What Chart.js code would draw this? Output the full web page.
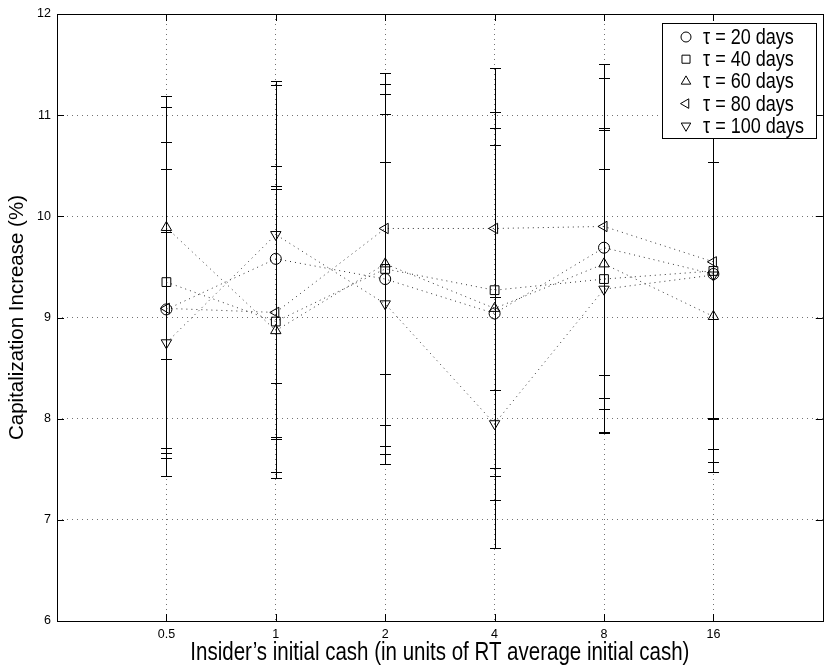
<!DOCTYPE html>
<html>
<head>
<meta charset="utf-8">
<script src="https://cdn.jsdelivr.net/npm/chart.js@4.4.0/dist/chart.umd.min.js"></script>
<style>
  html, body { margin: 0; padding: 0; background: #fff; }
  #wrap { width: 830px; height: 671px; }
</style>
</head>
<body>
<div id="wrap"><canvas id="capChart" width="830" height="671"></canvas></div>
<script>
// x categories (insider's initial cash, units of RT average)
const cashLabels = ['0.5', '1', '2', '4', '8', '16'];
const seriesNames = ['τ = 20 days', 'τ = 40 days', 'τ = 60 days', 'τ = 80 days', 'τ = 100 days'];
const xTitle = 'Insider’s initial cash (in units of RT average initial cash)';
const yTitle = 'Capitalization Increase (%)';

// mean capitalization increase (%) per tau
const mean20  = [9.08, 9.58, 9.38, 9.04, 9.69, 9.43];
const mean40  = [9.35, 8.96, 9.48, 9.27, 9.38, 9.46];
const mean60  = [9.89, 8.87, 9.53, 9.09, 9.53, 9.01];
const mean80  = [9.09, 9.05, 9.88, 9.88, 9.90, 9.55];
const mean100 = [8.75, 9.82, 9.135, 7.95, 9.28, 9.42];

// error bar ends
const low20  = [7.43, 7.82, 7.55, 7.20, 7.87, 7.70];
const high20 = [10.73, 11.30, 11.21, 10.87, 11.51, 11.16];
const low40  = [7.61, 7.41, 7.94, 7.51, 7.86, 7.57];
const high40 = [11.08, 10.50, 11.01, 11.03, 10.85, 11.35];
const low60  = [8.59, 7.47, 7.65, 7.43, 8.20, 7.47];
const high60 = [11.19, 10.27, 11.42, 10.71, 10.87, 10.54];
const low80  = [7.71, 7.80, 8.44, 8.28, 8.43, 8.01];
const high80 = [10.47, 10.30, 11.31, 11.47, 11.37, 11.09];
const low100  = [7.66, 8.35, 7.73, 6.72, 8.10, 8.00];
const high100 = [9.85, 11.34, 10.54, 9.20, 10.47, 10.84];

const yTicks = [6, 7, 8, 9, 10, 11, 12];

const FONT = "'Liberation Sans', Arial, Helvetica, sans-serif";
const SQUEEZE = 0.82; // reference text is horizontally condensed

const means = [mean20, mean40, mean60, mean80, mean100];
const lows = [low20, low40, low60, low80, low100];
const highs = [high20, high40, high60, high80, high100];
const markers = [
    { style: 'circle', rot: 0, r: 5.5 },
    { style: 'rect', rot: 0, r: 6.2 },
    { style: 'triangle', rot: 0, r: 6 },
    { style: 'triangle', rot: -90, r: 6 },
    { style: 'triangle', rot: 180, r: 6 }
];

function toPoints(arr) {
    return arr.map((v, i) => ({ x: i + 1, y: v }));
}

function condensedText(ctx, text, x, y) {
    ctx.save();
    ctx.translate(x, y);
    ctx.scale(SQUEEZE, 1);
    ctx.fillText(text, 0, 0);
    ctx.restore();
}

const errorBars = {
    id: 'errorBars',
    beforeDatasetsDraw(chart) {
        const ctx = chart.ctx;
        const xs = chart.scales.x, ys = chart.scales.y;
        ctx.save();
        ctx.strokeStyle = '#000';
        ctx.lineWidth = 1;
        for (let s = 0; s < means.length; s++) {
            for (let i = 0; i < cashLabels.length; i++) {
                const px = Math.round(xs.getPixelForValue(i + 1)) + 0.5;
                const pLo = Math.round(ys.getPixelForValue(lows[s][i])) + 0.5;
                const pHi = Math.round(ys.getPixelForValue(highs[s][i])) + 0.5;
                ctx.beginPath();
                ctx.moveTo(px, pLo); ctx.lineTo(px, pHi);
                ctx.moveTo(px - 5.5, pLo); ctx.lineTo(px + 5.5, pLo);
                ctx.moveTo(px - 5.5, pHi); ctx.lineTo(px + 5.5, pHi);
                ctx.stroke();
            }
        }
        ctx.restore();
    }
};

const frameAndLegend = {
    id: 'frameAndLegend',
    afterDraw(chart) {
        const ctx = chart.ctx;
        const a = chart.chartArea;
        const xs = chart.scales.x, ys = chart.scales.y;
        ctx.save();
        ctx.strokeStyle = '#000';
        ctx.lineWidth = 1;
        // box
        ctx.strokeRect(Math.round(a.left) + 0.5, Math.round(a.top) + 0.5,
            Math.round(a.right - a.left), Math.round(a.bottom - a.top));
        // inward ticks on all sides
        ctx.beginPath();
        for (let i = 0; i < cashLabels.length; i++) {
            const px = Math.round(xs.getPixelForValue(i + 1)) + 0.5;
            ctx.moveTo(px, a.bottom); ctx.lineTo(px, a.bottom - 7);
            ctx.moveTo(px, a.top); ctx.lineTo(px, a.top + 7);
        }
        yTicks.forEach(v => {
            const py = Math.round(ys.getPixelForValue(v)) + 0.5;
            ctx.moveTo(a.left, py); ctx.lineTo(a.left + 7, py);
            ctx.moveTo(a.right, py); ctx.lineTo(a.right - 7, py);
        });
        ctx.stroke();

        // x axis title
        ctx.fillStyle = '#000';
        ctx.font = '25px ' + FONT;
        ctx.textAlign = 'center';
        ctx.textBaseline = 'alphabetic';
        condensedText(ctx, xTitle, (a.left + a.right) / 2, 660);

        // legend box
        const lx = 662, ly = 23, lw = 154, lh = 115;
        ctx.fillStyle = '#fff';
        ctx.fillRect(lx, ly, lw, lh);
        ctx.strokeRect(lx + 0.5, ly + 0.5, lw, lh);
        ctx.font = '22px ' + FONT;
        ctx.textBaseline = 'middle';
        ctx.textAlign = 'left';
        seriesNames.forEach((name, i) => {
            const cy = ly + 14 + i * 22.2;
            const m = markers[i];
            ctx.strokeStyle = '#000';
            ctx.fillStyle = 'rgba(0,0,0,0)';
            ctx.lineWidth = 1;
            Chart.helpers.drawPoint(ctx, {
                pointStyle: m.style, rotation: m.rot, radius: m.r - 0.5, borderWidth: 1
            }, 686, cy);
            ctx.fillStyle = '#000';
            condensedText(ctx, name, 703, cy + 1);
        });
        ctx.restore();
    }
};

const datasets = means.map((m, s) => ({
    label: seriesNames[s],
    data: toPoints(m),
    showLine: true,
    borderColor: '#333',
    borderWidth: 1,
    borderDash: [1, 4],
    pointStyle: markers[s].style,
    rotation: markers[s].rot,
    pointRadius: markers[s].r,
    pointBorderColor: '#000',
    pointBackgroundColor: 'rgba(0,0,0,0)',
    pointBorderWidth: 1,
    fill: false
}));

const ctx = document.getElementById('capChart').getContext('2d');
new Chart(ctx, {
    type: 'scatter',
    data: { datasets: datasets },
    plugins: [errorBars, frameAndLegend],
    options: {
        responsive: false,
        animation: false,
        layout: { padding: { top: 14, right: 6, left: 0, bottom: 0 } },
        plugins: { legend: { display: false }, tooltip: { enabled: false } },
        scales: {
            x: {
                type: 'linear',
                min: 0,
                max: 7,
                afterBuildTicks: scale => {
                    scale.ticks = cashLabels.map((l, i) => ({ value: i + 1 }));
                },
                afterFit: scale => { scale.height = 50; },
                ticks: {
                    color: '#000',
                    font: { family: FONT, size: 12.5 },
                    padding: 6,
                    callback: (v) => cashLabels[v - 1] || ''
                },
                grid: { color: 'rgba(0,0,0,0.55)', drawTicks: false, lineWidth: 1 },
                border: { display: false, dash: [1, 4] },
                title: { display: false }
            },
            y: {
                type: 'linear',
                min: 6,
                max: 12,
                afterBuildTicks: scale => {
                    scale.ticks = yTicks.map(v => ({ value: v }));
                },
                afterFit: scale => { scale.width = 57; },
                ticks: {
                    color: '#000',
                    font: { family: FONT, size: 12.5 },
                    padding: 6
                },
                grid: {
                    color: c => (c.tick && (c.tick.value === 6 || c.tick.value === 12)) ? 'rgba(0,0,0,0)' : 'rgba(0,0,0,0.55)',
                    drawTicks: false,
                    lineWidth: 1
                },
                border: { display: false, dash: [1, 4] },
                title: {
                    display: true,
                    text: yTitle,
                    color: '#000',
                    font: { family: FONT, size: 20.5 },
                    padding: { top: 5, bottom: 4 }
                }
            }
        }
    }
});
</script>
</body>
</html>
